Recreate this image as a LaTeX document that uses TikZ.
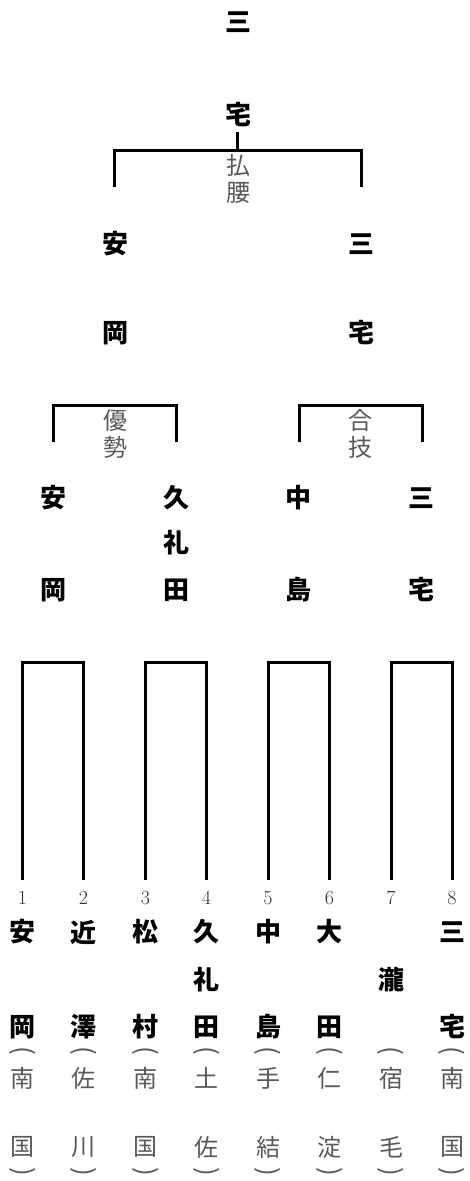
\documentclass[tikz,border=0pt]{standalone}
\usepackage{fontspec}
\newfontfamily\jp{Noto Sans CJK JP}
\begin{document}
\begin{tikzpicture}[x=1pt,y=-1pt,
  nm/.style={font=\jp\bfseries\fontsize{26}{26}\selectfont, inner sep=0pt, text=black},
  pf/.style={font=\jp\fontsize{24}{24}\selectfont, inner sep=0pt, text=black!65},
  par/.style={font=\jp\fontsize{26}{26}\selectfont, inner sep=0pt, text=black!65},
  num/.style={font=\fontsize{20}{20}\selectfont, inner sep=0pt, text=black!80},
  br/.style={line width=3pt, line cap=butt, line join=miter}]
\useasboundingbox (0,0) rectangle (469,1181);
% final
\node[nm] (w1) at (238,22) {三};
\node[nm] (w2) at (238,115) {宅};
\coordinate (fT) at (237,132);
\coordinate (fM) at (237,150);
\coordinate (fLb) at (114,187);
\coordinate (fRb) at (361,187);
\draw[br] (fT) -- (fM);
\draw[br] (fLb) |- (fM) -| (fRb);
\node[pf] (k1a) at (238,165) {払};
\node[pf] (k1b) at (238,193) {腰};
% finalists
\node[nm] (fa1) at (115,244) {安};
\node[nm] (fa2) at (115,333) {岡};
\node[nm] (fb1) at (361,244) {三};
\node[nm] (fb2) at (361,333) {宅};
% semifinal brackets
\coordinate (sLa) at (53,442);
\coordinate (sLb) at (176,442);
\coordinate (sRa) at (299,442);
\coordinate (sRb) at (422,442);
\draw[br] (sLa) -- ++(0,-36.5) -| (sLb);
\draw[br] (sRa) -- ++(0,-36.5) -| (sRb);
\node[pf] (k2a) at (115,420) {優};
\node[pf] (k2b) at (115,447) {勢};
\node[pf] (k3a) at (360,420) {合};
\node[pf] (k3b) at (360,447) {技};
% semifinalists
\node[nm] (sa1) at (53,498) {安};
\node[nm] (sa2) at (53,590) {岡};
\node[nm] (sb1) at (176,498) {久};
\node[nm] (sb2) at (176,543) {礼};
\node[nm] (sb3) at (176,590) {田};
\node[nm] (sc1) at (298,498) {中};
\node[nm] (sc2) at (298,590) {島};
\node[nm] (sd1) at (421,498) {三};
\node[nm] (sd2) at (421,590) {宅};
% first round brackets
\foreach \i/\a/\b in {1/22.5/83.5, 2/145.5/206.5, 3/268/329.5, 4/391/452}{
  \coordinate (qa\i) at (\a,880);
  \coordinate (qb\i) at (\b,880);
  \draw[br] (qa\i) -- ++(0,-218) -| (qb\i);
}
% entrants
\foreach \i/\x/\p/\q in {1/22.5/南/国, 2/83.5/佐/川, 3/145.5/南/国, 4/206.5/土/佐, 5/268/手/結, 6/329.5/仁/淀, 7/391/宿/毛, 8/452/南/国}{
  \node[num] (n\i) at (\x,898) {\i};
  \node[par, rotate=-90] (po\i) at (\x,1051) {(};
  \node[pf] (pa\i) at (\x,1078) {\p};
  \node[pf] (pb\i) at (\x,1147) {\q};
  \node[par, rotate=-90] (pc\i) at (\x,1172) {)};
}
\node[nm] (e1a) at (22.5,932) {安};
\node[nm] (e1b) at (22.5,1027) {岡};
\node[nm] (e2a) at (83.5,932) {近};
\node[nm] (e2b) at (83.5,1027) {澤};
\node[nm] (e3a) at (145.5,932) {松};
\node[nm] (e3b) at (145.5,1027) {村};
\node[nm] (e4a) at (206.5,932) {久};
\node[nm] (e4b) at (206.5,980) {礼};
\node[nm] (e4c) at (206.5,1027) {田};
\node[nm] (e5a) at (268,932) {中};
\node[nm] (e5b) at (268,1027) {島};
\node[nm] (e6a) at (329.5,932) {大};
\node[nm] (e6b) at (329.5,1027) {田};
\node[nm] (e7a) at (391,980) {瀧};
\node[nm] (e8a) at (452,932) {三};
\node[nm] (e8b) at (452,1027) {宅};
\end{tikzpicture}
\end{document}
